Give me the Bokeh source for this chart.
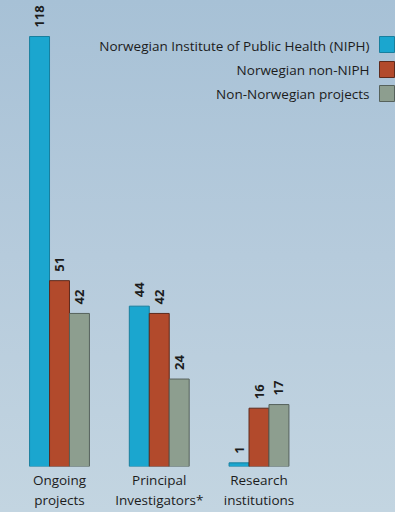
import math
from bokeh.plotting import figure
from bokeh.models import ColumnDataSource, FixedTicker, Range1d, Label, BoxAnnotation
from bokeh.transform import dodge
from bokeh.core.properties import value
from bokeh.embed import file_html
from bokeh.resources import INLINE

# ---- data ----
categories = ["Ongoing\nprojects", "Principal\nInvestigators*", "Research\ninstitutions"]
series_names = ["Norwegian Institute of Public Health (NIPH)", "Norwegian non-NIPH", "Non-Norwegian projects"]
niph = [118, 44, 1]
non_niph = [51, 42, 16]
non_norwegian = [42, 24, 17]

fills = ["#1ba6cf", "#b24a2c", "#8d9e8f"]
edges = ["#187f9e", "#5e2a1c", "#56625c"]

# ---- layout constants (pixels) ----
FW, FH = 395, 466
X0 = -59 / 99.75
X1 = X0 + FW / 99.75
Y1 = FH / ((FH - 36) / 118)

def px2x(px):
    return X0 + px / FW * (X1 - X0)

def py2y(py):
    return (FH - py) / FH * Y1

p = figure(frame_width=FW, frame_height=FH, x_range=Range1d(X0, X1), y_range=Range1d(0, Y1),
           output_backend="svg", toolbar_location=None, y_axis_location=None,
           min_border_left=0, min_border_right=0, min_border_top=0, min_border_bottom=0)
p.grid.visible = False
p.outline_line_color = None
p.background_fill_alpha = 0
p.border_fill_alpha = 0
p.styles = {"background": "linear-gradient(to bottom, #a7c1d6 0%, #b6cbdc 50%, #c3d5e1 100%)"}

ax = p.xaxis[0]
ax.ticker = FixedTicker(ticks=[0, 1, 2])
ax.major_label_overrides = {i: c for i, c in enumerate(categories)}
ax.axis_line_color = None
ax.major_tick_line_color = None
ax.minor_tick_line_color = None
ax.major_tick_out = 0
ax.major_tick_in = 0
ax.major_label_standoff = 4
ax.major_label_text_font = "Open Sans"
ax.major_label_text_font_size = "13.5px"
ax.major_label_text_line_height = 1.15
ax.major_label_text_color = "#1c1c1c"

series = [niph, non_niph, non_norwegian]
offsets = [-0.2, 0.0, 0.2]
for vals, off, fc, lc in zip(series, offsets, fills, edges):
    src = ColumnDataSource(dict(x=list(range(len(categories))), v=vals, t=[str(v) for v in vals]))
    p.vbar(x=dodge("x", off, range=p.x_range), top="v", bottom=0, width=0.2, source=src,
           fill_color=fc, line_color=lc, line_width=1)
    p.text(x=dodge("x", off, range=p.x_range), y="v", text="t", source=src, angle=math.pi / 2,
           text_align="left", text_baseline="middle", y_offset=-9,
           text_font=value("Open Sans"), text_font_style="bold", text_font_size="13px",
           text_color="#1c1c1c")

# ---- legend (text left of square) ----
text_rows = [45.5, 69.5, 93.5]
box_rows = [44, 69, 93]
for name, fc, lc, ty, by in zip(series_names, fills, edges, text_rows, box_rows):
    p.add_layout(Label(x=px2x(369), y=py2y(ty), text=name, text_align="right",
                       text_baseline="middle", text_font="Open Sans", text_font_size="13.5px",
                       text_color="#1c1c1c"))
    p.add_layout(BoxAnnotation(left=px2x(379), right=px2x(394), top=py2y(by - 8), bottom=py2y(by + 8),
                               fill_color=fc, fill_alpha=1, line_color=lc, line_width=1, line_alpha=1))

open("out.html", "w").write(file_html(p, INLINE))
